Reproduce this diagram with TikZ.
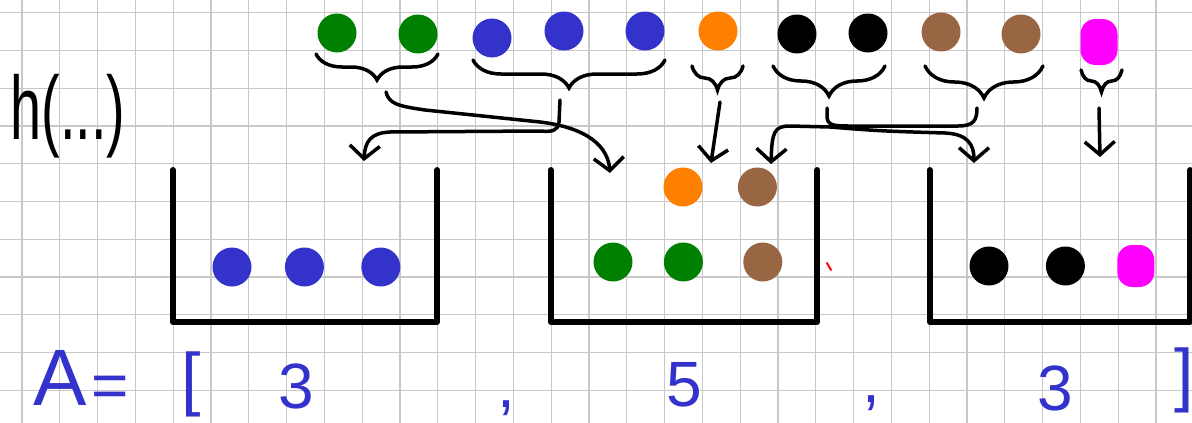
\documentclass[tikz,border=0pt]{standalone}
\usepackage{fontspec}
\setmainfont{Liberation Sans}
\usepackage{tikz}
\usetikzlibrary{positioning,arrows.meta,decorations.pathreplacing}
\usepackage{xcolor}
\definecolor{gridgray}{HTML}{C8C8C8}
\definecolor{penblue}{HTML}{3333CC}
\definecolor{pengreen}{HTML}{008000}
\definecolor{penorange}{HTML}{FF8000}
\definecolor{penbrown}{HTML}{996644}
\definecolor{penpink}{HTML}{FF00FF}

\begin{document}
\begin{tikzpicture}[x=1pt, y=-1pt,
    gridLine/.style={draw=gridgray, line width=1.3pt},
    ball/.style={circle, inner sep=0pt, minimum size=39pt},
    pinkBall/.style={rectangle, rounded corners=15pt, inner sep=0pt, minimum width=37pt, minimum height=46pt, fill=penpink},
    hbrace/.style={decorate, decoration={brace, mirror, amplitude=#1pt}, line width=3.5pt, line cap=round},
    handLine/.style={line width=3.5pt, line cap=round},
    arrowHand/.style={-{Straight Barb[length=13pt, width=30pt]}, line width=3.5pt, line cap=round},
    bucket/.style={rectangle, inner sep=0pt, minimum height=152pt},
    bucketWall/.style={line width=5.5pt, line cap=round, line join=round},
    penText/.style={text=penblue, inner sep=0pt, font=\fontsize{64}{64}\selectfont}
]
    \useasboundingbox (0,0) rectangle (1192,423);
    \fill[white] (0,0) rectangle (1192,423);

    % grid paper
    \foreach \i in {0,...,30}
        \draw[gridLine] ({22+37.8*\i},0) -- ({22+37.8*\i},423);
    \foreach \j in {0,...,10}
        \draw[gridLine] (0,{12.7+37.75*\j}) -- (1192,{12.7+37.75*\j});

    % h(...)
    \node[inner sep=0pt, font=\fontsize{90}{90}\selectfont] (hfun) at (68,116) {\scalebox{0.62}[1]{h(...)}};

    % elements before hashing
    \node[ball, fill=pengreen] (g1) at (337,33) {};
    \node[ball, fill=pengreen] (g2) at (418,34) {};
    \node[ball, fill=penblue] (u1) at (492,38) {};
    \node[ball, fill=penblue] (u2) at (564,31) {};
    \node[ball, fill=penblue] (u3) at (645,31) {};
    \node[ball, fill=penorange] (o1) at (718,31) {};
    \node[ball, fill=black] (k1) at (797,34) {};
    \node[ball, fill=black] (k2) at (868,33) {};
    \node[ball, fill=penbrown] (n1) at (941,32) {};
    \node[ball, fill=penbrown] (n2) at (1021,34) {};
    \node[pinkBall] (m1) at (1099,42) {};

    % braces
    \draw[hbrace=26] (316,54) -- (438,54);
    \draw[hbrace=28] (473,60) -- (665,60);
    \draw[hbrace=24] (692,66) -- (743,66);
    \draw[hbrace=30] (773,66) -- (885,66);
    \draw[hbrace=32] (925,66) -- (1043,66);
    \draw[hbrace=22] (1081,70) -- (1122,70);

    \coordinate (gs) at (386,92);
    \coordinate (us) at (560,100);
    \coordinate (os) at (720,102);
    \coordinate (ks) at (827,108);
    \coordinate (ns) at (977,108);
    \coordinate (ms) at (1099,108);
    \coordinate (split) at (830,127);

    % buckets
    \node[bucket, minimum width=264pt] (b1) at (305,246) {};
    \node[bucket, minimum width=266pt] (b2) at (684,246) {};
    \node[bucket, minimum width=260pt] (b3) at (1060,246) {};
    \foreach \b in {b1,b2,b3}
        \draw[bucketWall] (\b.north west) -- (\b.south west) -- (\b.south east) -- (\b.north east);

    \coordinate (t1) at (364,161);
    \coordinate (t2) at (610,173);
    \coordinate (t3) at (711,163);
    \coordinate (t4) at (771,164);
    \coordinate (t5) at (974,163);
    \coordinate (t6) at (1100,157);

    % arrows into the buckets
    \draw[arrowHand] (gs) .. controls (389,104) and (398,106) .. (425,110) -- (540,122)
        .. controls (590,128) and (608,148) .. (t2);
    \draw[arrowHand] (us) -- (559,122) .. controls (558,131) and (552,132) .. (540,131) -- (390,132)
        .. controls (370,133) and (365,142) .. (t1);
    \draw[arrowHand] (os) -- (t3);
    \draw[handLine] (ks) -- (827,116) .. controls (827,125) and (833,126) .. (848,126) -- (958,126)
        .. controls (974,126) and (977,120) .. (ns);
    \draw[arrowHand] (split) -- (790,126) .. controls (774,126) and (772,132) .. (t4);
    \draw[arrowHand] (split) .. controls (880,131) .. (945,133) .. controls (968,134) and (974,145) .. (t5);
    \draw[arrowHand] (ms) -- (t6);

    % contents of the buckets
    \node[ball, fill=penblue] (l1) at (232,267) {};
    \node[ball, fill=penblue, right=33pt of l1] (l2) {};
    \node[ball, fill=penblue, right=37pt of l2] (l3) {};

    \node[ball, fill=pengreen] (c1) at (613,262) {};
    \node[ball, fill=pengreen, right=31pt of c1] (c2) {};
    \node[ball, fill=penbrown, right=40pt of c2] (c3) {};
    \node[ball, fill=penorange] (c4) at (683,187) {};
    \node[ball, fill=penbrown, right=35pt of c4] (c5) {};

    \node[ball, fill=black] (r1) at (989,266) {};
    \node[ball, fill=black, right=37pt of r1] (r2) {};
    \node[pinkBall, minimum height=42pt, right=32pt of r2] (r3) {};

    \draw[red, line width=2pt, line cap=round] (827,263) -- (831,270);

    % A = [ 3 , 5 , 3 ]
    \node[penText, font=\fontsize{80}{80}\selectfont] (aName) at (60,378) {A};
    \node[penText] (aEq) at (110,392) {=};
    \node[penText, font=\fontsize{70}{70}\selectfont] (aOpen) at (191,384) {[};
    \node[penText] (a1) at (296,386) {3};
    \node[penText] (c12) at (506,408) {,};
    \node[penText] (a2) at (684,385) {5};
    \node[penText] (c23) at (871,403) {,};
    \node[penText] (a3) at (1055,388) {3};
    \node[penText, font=\fontsize{70}{70}\selectfont] (aClose) at (1184,380) {]};
\end{tikzpicture}
\end{document}
